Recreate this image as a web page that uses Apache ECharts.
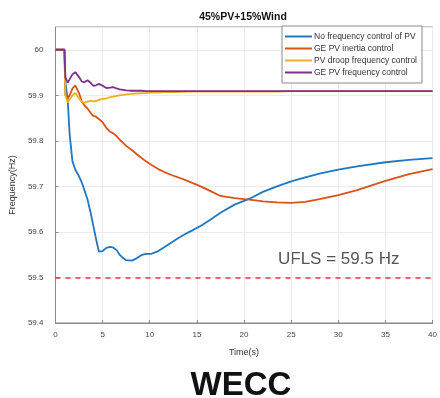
<!DOCTYPE html>
<html>
<head>
<meta charset="utf-8">
<script src="https://cdn.jsdelivr.net/npm/echarts@6/dist/echarts.min.js"></script>
<style>html,body{margin:0;padding:0;background:#fff}#c{width:440px;height:398px}</style>
</head>
<body>
<div id="c"></div>
<script>
var time = [0, 0.95, 1.05, 1.3, 1.5, 1.8, 2.1, 2.5, 2.8, 3.1, 3.4, 3.7, 4.0, 4.3, 4.6, 5.0, 5.4, 5.8, 6.1, 6.5, 6.8, 7.2, 7.5, 8.1, 8.6, 9.1, 9.6, 10.2, 10.9, 11.5, 12.3, 13, 14, 15.4, 16.5, 17.5, 19, 20.6, 22, 23.5, 25, 26.5, 28, 30, 32, 35, 37.5, 40];
var noControl = [60, 60, 59.93, 59.89, 59.815, 59.755, 59.737, 59.722, 59.708, 59.69, 59.671, 59.645, 59.615, 59.585, 59.557, 59.558, 59.565, 59.567, 59.566, 59.56, 59.55, 59.542, 59.538, 59.537, 59.542, 59.549, 59.552, 59.552, 59.558, 59.566, 59.577, 59.586, 59.598, 59.613, 59.628, 59.642, 59.66, 59.673, 59.688, 59.70, 59.711, 59.72, 59.728, 59.737, 59.744, 59.753, 59.758, 59.762];
var inertia = [60, 60, 59.9, 59.893, 59.9, 59.915, 59.922, 59.905, 59.886, 59.877, 59.871, 59.862, 59.855, 59.853, 59.848, 59.841, 59.828, 59.82, 59.817, 59.81, 59.803, 59.795, 59.789, 59.78, 59.771, 59.763, 59.755, 59.747, 59.738, 59.732, 59.725, 59.72, 59.712, 59.70, 59.689, 59.679, 59.674, 59.671, 59.667, 59.665, 59.664, 59.666, 59.672, 59.681, 59.692, 59.712, 59.727, 59.738];
var droop = [60, 60, 59.9, 59.884, 59.888, 59.9, 59.905, 59.893, 59.885, 59.884, 59.886, 59.888, 59.887, 59.887, 59.89, 59.892, 59.893, 59.896, 59.897, 59.899, 59.9, 59.901, 59.902, 59.903, 59.904, 59.905, 59.905, 59.906, 59.906, 59.907, 59.907, 59.907, 59.908, 59.908, 59.908, 59.908, 59.908, 59.908, 59.908, 59.908, 59.909, 59.909, 59.909, 59.909, 59.909, 59.909, 59.909, 59.909];
var freqCtrl = [60, 60, 59.94, 59.928, 59.935, 59.946, 59.951, 59.94, 59.93, 59.929, 59.933, 59.928, 59.921, 59.922, 59.925, 59.921, 59.916, 59.917, 59.918, 59.915, 59.913, 59.912, 59.911, 59.91, 59.91, 59.91, 59.909, 59.909, 59.909, 59.909, 59.909, 59.909, 59.909, 59.909, 59.909, 59.909, 59.909, 59.909, 59.909, 59.909, 59.909, 59.909, 59.909, 59.909, 59.909, 59.909, 59.909, 59.909];
var seriesNames = ['No frequency control of PV', 'GE PV inertia control', 'PV droop frequency control', 'GE PV frequency control'];
var seriesColors = ['#1f77c0', '#D95319', '#EDB120', '#7E2F8E'];
var ufls = 59.5;

function pairs(v) { return time.map(function (t, i) { return [t, v[i]]; }); }
var values = [noControl, inertia, droop, freqCtrl];

var chart = echarts.init(document.getElementById('c'));
var font = 'Liberation Sans, Arial, sans-serif';
var series = values.map(function (v, i) {
  return {
    name: seriesNames[i], type: 'line', data: pairs(v), showSymbol: false, symbol: 'none',
    lineStyle: { color: seriesColors[i], width: 1.8 }, itemStyle: { color: seriesColors[i] },
    z: 3 + i, animation: false
  };
});
series[0].markLine = {
  silent: true, symbol: 'none', label: { show: false },
  lineStyle: { color: '#e8343f', type: [5, 5], width: 1.5 },
  data: [{ yAxis: ufls }]
};
chart.setOption({
  animation: false,
  grid: { left: 52, right: 5, top: 27, bottom: 75, show: true, borderColor: '#8a8a8a', borderWidth: 1 },
  legend: {
    orient: 'vertical', left: 282, top: 26, padding: [6, 5, 6, 3], itemGap: 3,
    itemWidth: 27, itemHeight: 2, icon: 'rect',
    borderColor: '#8a8a8a', borderWidth: 1, backgroundColor: '#fff',
    textStyle: { fontSize: 8.5, color: '#333', fontFamily: font, padding: [0, 0, 0, -3] },
    data: seriesNames
  },
  xAxis: {
    type: 'value', min: 0, max: 40, interval: 5,
    name: 'Time(s)', nameLocation: 'middle', nameGap: 25,
    nameTextStyle: { fontSize: 9, color: '#333', fontFamily: font },
    axisLine: { lineStyle: { color: '#8a8a8a' } },
    axisTick: { inside: true, length: 3, lineStyle: { color: '#8a8a8a' } },
    axisLabel: { fontSize: 8, color: '#444', fontFamily: font, margin: 8 },
    splitLine: { show: true, lineStyle: { color: '#ececec' } }
  },
  yAxis: {
    type: 'value', min: 59.4, max: 60.05, interval: 0.1,
    name: 'Frequency(Hz)', nameLocation: 'middle', nameGap: 33,
    nameTextStyle: { fontSize: 9, color: '#333', fontFamily: font, padding: [0, 0, 0, -20] },
    axisLine: { show: true, lineStyle: { color: '#8a8a8a' } },
    axisTick: { show: true, inside: true, length: 3, lineStyle: { color: '#8a8a8a' } },
    axisLabel: { fontSize: 8, color: '#444', fontFamily: font, margin: 12, showMaxLabel: false,
      formatter: function (v) { return Math.abs(v - 60) < 1e-6 ? '60' : v.toFixed(1); } },
    splitLine: { show: true, lineStyle: { color: '#ececec' } }
  },
  graphic: [
    { type: 'text', x: 243, y: 12, style: { text: '45%PV+15%Wind', font: 'bold 10.5px ' + font, fill: '#111', textAlign: 'center' } },
    { type: 'text', x: 278, y: 251, style: { text: 'UFLS = 59.5 Hz', font: '17px ' + font, fill: '#555' } },
    { type: 'text', x: 241, y: 369, style: { text: 'WECC', font: 'bold 33px ' + font, fill: '#111', textAlign: 'center' } }
  ],
  series: series
});
</script>
</body>
</html>
